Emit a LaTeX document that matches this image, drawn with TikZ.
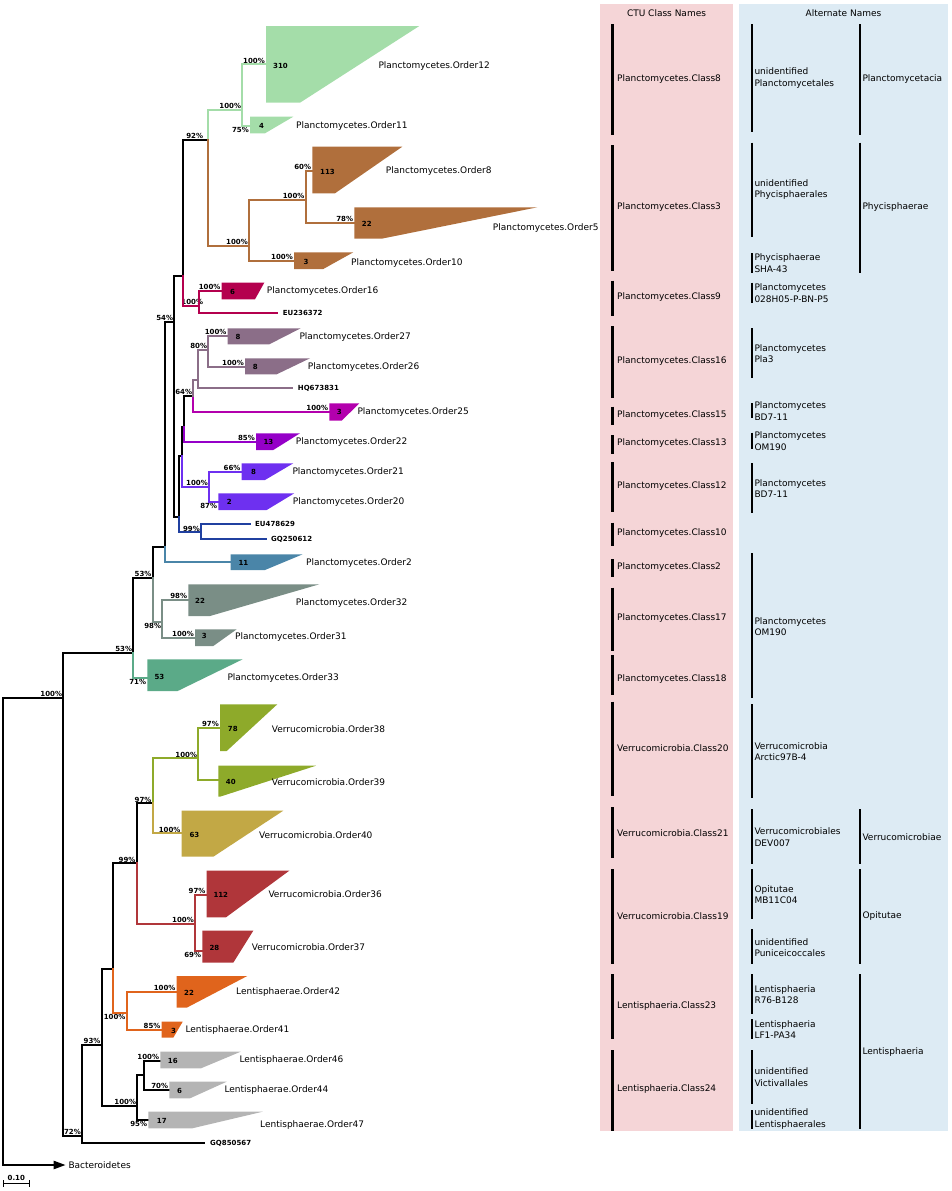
\documentclass[tikz,border=0pt]{standalone}
\usepackage{fontspec}
\setmainfont{DejaVu Sans}
\usetikzlibrary{positioning,arrows.meta}

\definecolor{cgreen}{HTML}{A4DDA9}
\definecolor{cbrown}{HTML}{B06F3C}
\definecolor{ccrim}{HTML}{B4004E}
\definecolor{cmauve}{HTML}{8B6E88}
\definecolor{cmag}{HTML}{B300AD}
\definecolor{cpurp}{HTML}{9500C8}
\definecolor{cviol}{HTML}{6E30F0}
\definecolor{cnavy}{HTML}{2040A0}
\definecolor{csteel}{HTML}{4A85A8}
\definecolor{cgtl}{HTML}{7A8E86}
\definecolor{cteal}{HTML}{5BAA88}
\definecolor{colive}{HTML}{8EAA2A}
\definecolor{cgold}{HTML}{C2A845}
\definecolor{cred}{HTML}{B0363A}
\definecolor{corange}{HTML}{E0641C}
\definecolor{cgray}{HTML}{B4B4B4}
\definecolor{pinkbg}{HTML}{F5D5D7}
\definecolor{bluebg}{HTML}{DDEBF4}

\begin{document}
\begin{tikzpicture}
    [x=1pt, y=-1pt,
    br/.style = {line width=2.2pt, line cap=rect},
    bs/.style = {font=\bfseries\fontsize{7}{8}\selectfont, inner sep=1pt},
    cnt/.style = {font=\bfseries\fontsize{7}{8}\selectfont, inner sep=0pt, anchor=west},
    leaf/.style = {font=\bfseries\fontsize{7}{8}\selectfont, inner sep=0pt},
    tx/.style = {font=\fontsize{9}{11}\selectfont, inner sep=0pt, anchor=west},
    bar/.style = {line width=2.6pt},
    pnl/.style = {font=\fontsize{9}{11.3}\selectfont, inner sep=0pt, anchor=west, align=left}]
    \useasboundingbox (0,0) rectangle (951,1191);
    % Panels
    \fill[pinkbg] (600,4) rectangle (732.7,1130.7);
    \fill[bluebg] (739,4) rectangle (947.7,1130.7);
    \node[font=\fontsize{9}{11}\selectfont] (hdA) at (666.5,13) {CTU Class Names};
    \node[font=\fontsize{9}{11}\selectfont] (hdB) at (843.5,13) {Alternate Names};
    % Inner nodes of the tree
    \coordinate (root) at (3.3,698);
    \coordinate[label={[bs]above left:100\%}] (n100) at (63.3,698);
    \coordinate[label={[bs]above left:53\%}] (nA53) at (133.3,652.7);
    \coordinate[label={[bs]above left:53\%}] (nB53) at (152.7,577.7);
    \coordinate (nMid) at (165,546.7);
    \coordinate[label={[bs]above left:54\%}] (n54) at (174.3,321.7);
    \coordinate (nTop) at (183.3,276);
    \coordinate[label={[bs,xshift=-4pt]above left:92\%}] (n92) at (208.3,140);
    \coordinate[label={[bs]above left:100\%}] (nG) at (242.3,110);
    \coordinate[label={[bs]above left:100\%}] (nBr) at (249,246);
    \coordinate[label={[bs]above left:100\%}] (nBr2) at (305.7,200);
    \coordinate[label={[bs,xshift=5pt]above left:100\%}] (nCr) at (199.3,306);
    \coordinate (nA) at (179,516.7);
    \coordinate (nB) at (181.7,456);
    \coordinate (nC) at (184.3,426.7);
    \coordinate[label={[bs]above left:64\%}] (n64) at (193.3,396);
    \coordinate (nMv) at (198.3,380);
    \coordinate[label={[bs]above left:80\%}] (n80) at (208.3,350);
    \coordinate[label={[bs]above left:100\%}] (nVi) at (209,486.7);
    \coordinate[label={[bs]above left:99\%}] (n99n) at (201,532.3);
    \coordinate[label={[bs]below left:98\%}] (n98) at (162.3,621.7);
    \coordinate[label={[bs]above left:72\%}] (n72) at (82,1135.7);
    \coordinate[label={[bs]above left:93\%}] (n93) at (101.7,1045);
    \coordinate (nV) at (112.7,969);
    \coordinate[label={[bs]above left:99\%}] (n99v) at (136.7,863.3);
    \coordinate[label={[bs]above left:97\%}] (n97) at (152.7,803.3);
    \coordinate[label={[bs]above left:100\%}] (nOl) at (198.3,758.3);
    \coordinate[label={[bs]above left:100\%}] (nRd) at (195,924);
    \coordinate[label={[bs]below left:100\%}] (nOr) at (126.7,1013);
    \coordinate[label={[bs]above left:100\%}] (nL) at (137.3,1105.7);
    \coordinate (nL2) at (144.3,1075);
    % Tips
    \coordinate[label={[bs]above left:100\%}] (o12) at (266,64.3);
    \coordinate[label={[bs]below left:75\%}] (o11) at (250,126);
    \coordinate[label={[bs]above left:60\%}] (o8) at (312.3,170.7);
    \coordinate[label={[bs]above left:78\%}] (o5) at (354.3,222.7);
    \coordinate[label={[bs]above left:100\%}] (o10) at (294,260.7);
    \coordinate[label={[bs]above left:100\%}] (o16) at (221.7,290.7);
    \coordinate (eu1) at (277.3,313.3);
    \coordinate[label={[bs]above left:100\%}] (o27) at (227.7,335.7);
    \coordinate[label={[bs]above left:100\%}] (o26) at (245,366.7);
    \coordinate (hq) at (292.3,388.3);
    \coordinate[label={[bs]above left:100\%}] (o25) at (329.3,411.7);
    \coordinate[label={[bs]above left:85\%}] (o22) at (256,441.7);
    \coordinate[label={[bs]above left:66\%}] (o21) at (241.7,471.7);
    \coordinate[label={[bs]below left:87\%}] (o20) at (218.3,501.7);
    \coordinate (eu2) at (250,524.3);
    \coordinate (gq1) at (265.7,539.3);
    \coordinate (o2) at (230.7,562.3);
    \coordinate[label={[bs]above left:98\%}] (o32) at (188.3,600);
    \coordinate[label={[bs]above left:100\%}] (o31) at (195,637.7);
    \coordinate[label={[bs]below left:71\%}] (o33) at (147.3,678.3);
    \coordinate[label={[bs]above left:97\%}] (o38) at (220,727.7);
    \coordinate (o39) at (218.3,780);
    \coordinate[label={[bs]above left:100\%}] (o40) at (181.7,833.3);
    \coordinate[label={[bs]above left:97\%}] (o36) at (206.7,895);
    \coordinate[label={[bs]below left:69\%}] (o37) at (202.3,950.7);
    \coordinate[label={[bs]above left:100\%}] (o42) at (176.7,991.7);
    \coordinate[label={[bs]above left:85\%}] (o41) at (161.7,1030);
    \coordinate[label={[bs]above left:100\%}] (o46) at (160.3,1060.7);
    \coordinate[label={[bs]above left:70\%}] (o44) at (169.3,1090);
    \coordinate[label={[bs]below left:95\%}] (o47) at (148.3,1120);
    \coordinate (gq2) at (204,1143.3);
    \coordinate (bact) at (65.7,1165);
    % Branches
    \draw[br,-{Triangle[length=12pt,width=8pt]}] (root) |- (bact);
    \draw[br] (root) -- (n100) (n100) |- (nA53) (n100) |- (n72);
    \draw[br] (nA53) |- (nB53) (nB53) |- (nMid) (nMid) |- (n54);
    \draw[br] (n54) |- (nTop) (n54) |- (nA) (nTop) |- (n92);
    \draw[br] (nA) |- (nB) (nB) |- (nC) (nC) |- (n64);
    \draw[br,cteal] (nA53) |- (o33);
    \draw[br,cgtl] (nB53) |- (n98) (n98) |- (o32) (n98) |- (o31);
    \draw[br,csteel] (nMid) |- (o2);
    \draw[br,cgreen] (n92) |- (nG) (nG) |- (o12) (nG) |- (o11);
    \draw[br,cbrown] (n92) |- (nBr) (nBr) |- (nBr2) (nBr) |- (o10);
    \draw[br,cbrown] (nBr2) |- (o8) (nBr2) |- (o5);
    \draw[br,ccrim] (nTop) |- (nCr) (nCr) |- (o16) (nCr) |- (eu1);
    \draw[br,cnavy] (nA) |- (n99n) (n99n) |- (eu2) (n99n) |- (gq1);
    \draw[br,cviol] (nB) |- (nVi) (nVi) |- (o21) (nVi) |- (o20);
    \draw[br,cpurp] (nC) |- (o22);
    \draw[br,cmag] (n64) |- (o25);
    \draw[br,cmauve] (n64) |- (nMv) (nMv) |- (n80) (nMv) |- (hq);
    \draw[br,cmauve] (n80) |- (o27) (n80) |- (o26);
    \draw[br] (n72) |- (n93) (n72) |- (gq2) (n93) |- (nV) (n93) |- (nL);
    \draw[br] (nV) |- (n99v) (n99v) |- (n97);
    \draw[br] (nL) |- (nL2) (nL) |- (o47) (nL2) |- (o46) (nL2) |- (o44);
    \draw[br,colive] (n97) |- (nOl) (nOl) |- (o38) (nOl) |- (o39);
    \draw[br,cgold] (n97) |- (o40);
    \draw[br,cred] (n99v) |- (nRd) (nRd) |- (o36) (nRd) |- (o37);
    \draw[br,corange] (nV) |- (nOr) (nOr) |- (o42) (nOr) |- (o41);
    % Collapsed clades
    \fill[cgreen] (266,26) -- (419.3,26) -- (300,102.7) -- (266,102.7) -- cycle;
    \fill[cgreen] (250,116.7) -- (293.3,116.7) -- (265,133.3) -- (250,133.3) -- cycle;
    \fill[cbrown] (312.3,146.7) -- (402.3,146.7) -- (335,193.3) -- (312.3,193.3) -- cycle;
    \fill[cbrown] (354.3,207.3) -- (537.3,207.3) -- (381.7,238.7) -- (354.3,238.7) -- cycle;
    \fill[cbrown] (294,252.3) -- (353.3,252.3) -- (323.3,269) -- (294,269) -- cycle;
    \fill[ccrim] (221.7,282.7) -- (264.3,282.7) -- (255,299.3) -- (221.7,299.3) -- cycle;
    \fill[cmauve] (227.7,328.3) -- (300.7,328.3) -- (269.3,344.3) -- (227.7,344.3) -- cycle;
    \fill[cmauve] (245,358.3) -- (310,358.3) -- (276.7,374.3) -- (245,374.3) -- cycle;
    \fill[cmag] (329.3,403.3) -- (359.3,403.3) -- (341.7,420.7) -- (329.3,420.7) -- cycle;
    \fill[cpurp] (256,433.3) -- (300,433.3) -- (273.3,450) -- (256,450) -- cycle;
    \fill[cviol] (241.7,463.3) -- (293.3,463.3) -- (265,480) -- (241.7,480) -- cycle;
    \fill[cviol] (218.3,493.3) -- (294.3,493.3) -- (266.7,510) -- (218.3,510) -- cycle;
    \fill[csteel] (230.7,554.3) -- (302.7,554.3) -- (265,570) -- (230.7,570) -- cycle;
    \fill[cgtl] (188.3,584.3) -- (319.3,584.3) -- (210,616) -- (188.3,616) -- cycle;
    \fill[cgtl] (195,629.3) -- (236.7,629.3) -- (213.3,646) -- (195,646) -- cycle;
    \fill[cteal] (147.3,659.3) -- (242.7,659.3) -- (177.7,691) -- (147.3,691) -- cycle;
    \fill[colive] (220,704.3) -- (277.3,704.3) -- (226.7,751) -- (220,751) -- cycle;
    \fill[colive] (218.3,765.7) -- (316,765.7) -- (220,796.7) -- (218.3,796.7) -- cycle;
    \fill[cgold] (181.7,810.7) -- (283.3,810.7) -- (213.3,856.7) -- (181.7,856.7) -- cycle;
    \fill[cred] (206.7,870.7) -- (289.3,870.7) -- (226,917.3) -- (206.7,917.3) -- cycle;
    \fill[cred] (202.3,930.7) -- (253.3,930.7) -- (233.3,962.7) -- (202.3,962.7) -- cycle;
    \fill[corange] (176.7,976) -- (247.3,976) -- (186.7,1007.7) -- (176.7,1007.7) -- cycle;
    \fill[corange] (161.7,1021.7) -- (182.7,1021.7) -- (173.3,1037.7) -- (161.7,1037.7) -- cycle;
    \fill[cgray] (160.3,1051.7) -- (240.7,1051.7) -- (201,1068.3) -- (160.3,1068.3) -- cycle;
    \fill[cgray] (169.3,1081.7) -- (226.7,1081.7) -- (190,1098.3) -- (169.3,1098.3) -- cycle;
    \fill[cgray] (148.3,1111.7) -- (262.7,1111.7) -- (192.3,1128.3) -- (148.3,1128.3) -- cycle;
    % Sizes of the clades
    \node[cnt] (k12) at (273,65.5) {310};
    \node[cnt] (k11) at (259,126) {4};
    \node[cnt] (k8) at (320,172) {113};
    \node[cnt] (k5) at (361.7,224) {22};
    \node[cnt] (k10) at (303.3,262) {3};
    \node[cnt] (k16) at (230,292) {6};
    \node[cnt] (k27) at (235.3,337) {8};
    \node[cnt] (k26) at (252.7,367) {8};
    \node[cnt] (k25) at (336.7,412) {3};
    \node[cnt] (k22) at (263.3,442) {13};
    \node[cnt] (k21) at (251,472) {8};
    \node[cnt] (k20) at (226.7,502) {2};
    \node[cnt] (k2) at (238.3,563) {11};
    \node[cnt] (k32) at (195,601) {22};
    \node[cnt] (k31) at (201.7,636) {3};
    \node[cnt] (k33) at (154.3,677) {53};
    \node[cnt] (k38) at (227.7,729) {78};
    \node[cnt] (k39) at (225.7,782) {40};
    \node[cnt] (k40) at (189.3,835) {63};
    \node[cnt] (k36) at (213.3,895) {112};
    \node[cnt] (k37) at (209.3,948) {28};
    \node[cnt] (k42) at (184,993) {22};
    \node[cnt] (k41) at (171,1031) {3};
    \node[cnt] (k46) at (167.7,1061) {16};
    \node[cnt] (k44) at (177,1091) {6};
    \node[cnt] (k47) at (156.7,1121) {17};
    % Clade names
    \node[tx] (t12) at (378.3,66) {Planctomycetes.Order12};
    \node[tx] (t11) at (296,126) {Planctomycetes.Order11};
    \node[tx] (t8) at (385.7,171) {Planctomycetes.Order8};
    \node[tx] (t5) at (492.7,228) {Planctomycetes.Order5};
    \node[tx] (t10) at (351,263) {Planctomycetes.Order10};
    \node[tx] (t16) at (266.7,291) {Planctomycetes.Order16};
    \node[tx] (t27) at (299.3,337) {Planctomycetes.Order27};
    \node[tx] (t26) at (307.7,367) {Planctomycetes.Order26};
    \node[tx] (t25) at (357.3,412) {Planctomycetes.Order25};
    \node[tx] (t22) at (295.7,442) {Planctomycetes.Order22};
    \node[tx] (t21) at (292.3,472) {Planctomycetes.Order21};
    \node[tx] (t20) at (292.7,502) {Planctomycetes.Order20};
    \node[tx] (t2) at (306,563) {Planctomycetes.Order2};
    \node[tx] (t32) at (295.7,603) {Planctomycetes.Order32};
    \node[tx] (t31) at (235,637) {Planctomycetes.Order31};
    \node[tx] (t33) at (227.3,678) {Planctomycetes.Order33};
    \node[tx] (t38) at (271.7,729) {Verrucomicrobia.Order38};
    \node[tx] (t39) at (271.7,782) {Verrucomicrobia.Order39};
    \node[tx] (t40) at (259,835) {Verrucomicrobia.Order40};
    \node[tx] (t36) at (268.3,894) {Verrucomicrobia.Order36};
    \node[tx] (t37) at (251.7,947) {Verrucomicrobia.Order37};
    \node[tx] (t42) at (236,992) {Lentisphaerae.Order42};
    \node[tx] (t41) at (185.3,1030) {Lentisphaerae.Order41};
    \node[tx] (t46) at (239.3,1060) {Lentisphaerae.Order46};
    \node[tx] (t44) at (224.3,1090) {Lentisphaerae.Order44};
    \node[tx] (t47) at (260,1125) {Lentisphaerae.Order47};
    % Single sequences
    \node[leaf,right=5.4pt of eu1] (teu1) {EU236372};
    \node[leaf,right=5.4pt of hq] (thq) {HQ673831};
    \node[leaf,right=5pt of eu2] (teu2) {EU478629};
    \node[leaf,right=5.3pt of gq1] (tgq1) {GQ250612};
    \node[leaf,right=6pt of gq2] (tgq2) {GQ850567};
    \node[tx,right=2.6pt of bact] (tbact) {Bacteroidetes};
    % Scale bar
    \draw[line width=1.4pt] (3.3,1180) -- (3.3,1187) (3.3,1183.5) -- (29.3,1183.5) (29.3,1180) -- (29.3,1187);
    \node[leaf] (scl) at (16.3,1177.5) {0.10};
    % CTU class names
    \draw[bar] (612.7,24.3) -- (612.7,135);
    \node[pnl] (c8) at (617,79) {Planctomycetes.Class8};
    \draw[bar] (612.7,145) -- (612.7,270.7);
    \node[pnl] (c3) at (617,206.7) {Planctomycetes.Class3};
    \draw[bar] (612.7,280.7) -- (612.7,316);
    \node[pnl] (c9) at (617,297.3) {Planctomycetes.Class9};
    \draw[bar] (612.7,326) -- (612.7,397.7);
    \node[pnl] (c16) at (617,360.7) {Planctomycetes.Class16};
    \draw[bar] (612.7,406.7) -- (612.7,425);
    \node[pnl] (c15) at (617,415) {Planctomycetes.Class15};
    \draw[bar] (612.7,435) -- (612.7,454);
    \node[pnl] (c13) at (617,443.3) {Planctomycetes.Class13};
    \draw[bar] (612.7,462.3) -- (612.7,512.3);
    \node[pnl] (c12) at (617,486) {Planctomycetes.Class12};
    \draw[bar] (612.7,522.7) -- (612.7,545.7);
    \node[pnl] (c10) at (617,532.7) {Planctomycetes.Class10};
    \draw[bar] (612.7,559) -- (612.7,577.3);
    \node[pnl] (c2) at (617,566.7) {Planctomycetes.Class2};
    \draw[bar] (612.7,587.7) -- (612.7,650.7);
    \node[pnl] (c17) at (617,618.3) {Planctomycetes.Class17};
    \draw[bar] (612.7,655) -- (612.7,695);
    \node[pnl] (c18) at (617,679) {Planctomycetes.Class18};
    \draw[bar] (612.7,701.7) -- (612.7,796);
    \node[pnl] (c20) at (617,748.3) {Verrucomicrobia.Class20};
    \draw[bar] (612.7,807.3) -- (612.7,858.3);
    \node[pnl] (c21) at (617,832.7) {Verrucomicrobia.Class21};
    \draw[bar] (612.7,869) -- (612.7,964);
    \node[pnl] (c19) at (617,916) {Verrucomicrobia.Class19};
    \draw[bar] (612.7,974.3) -- (612.7,1039.3);
    \node[pnl] (c23) at (617,1006) {Lentisphaeria.Class23};
    \draw[bar] (612.7,1050) -- (612.7,1130.7);
    \node[pnl] (c24) at (617,1089) {Lentisphaeria.Class24};
    % Alternate names
    \draw[bar] (752,24.3) -- (752,132.3);
    \node[pnl] (a1) at (754.3,78) {unidentified\\Planctomycetales};
    \draw[bar] (752,142.7) -- (752,237.3);
    \node[pnl] (a2) at (754.3,189.5) {unidentified\\Phycisphaerales};
    \draw[bar] (752,253.3) -- (752,272.7);
    \node[pnl] (a3) at (754.3,263) {Phycisphaerae\\SHA-43};
    \draw[bar] (752,282.7) -- (752,302.7);
    \node[pnl] (a4) at (754.3,293) {Planctomycetes\\028H05-P-BN-P5};
    \draw[bar] (752,328.3) -- (752,377.7);
    \node[pnl] (a5) at (754.3,353.3) {Planctomycetes\\Pla3};
    \draw[bar] (752,403.3) -- (752,418.3);
    \node[pnl] (a6) at (754.3,411) {Planctomycetes\\BD7-11};
    \draw[bar] (752,432.7) -- (752,449);
    \node[pnl] (a7) at (754.3,441) {Planctomycetes\\OM190};
    \draw[bar] (752,463.3) -- (752,513.3);
    \node[pnl] (a8) at (754.3,488.7) {Planctomycetes\\BD7-11};
    \draw[bar] (752,553.3) -- (752,698.3);
    \node[pnl] (a9) at (754.3,626.3) {Planctomycetes\\OM190};
    \draw[bar] (752,704) -- (752,798.3);
    \node[pnl] (a10) at (754.3,751.7) {Verrucomicrobia\\Arctic97B-4};
    \draw[bar] (752,809) -- (752,864);
    \node[pnl] (a11) at (754.3,837) {Verrucomicrobiales\\DEV007};
    \draw[bar] (752,869) -- (752,919);
    \node[pnl] (a12) at (754.3,894.7) {Opitutae\\MB11C04};
    \draw[bar] (752,929.3) -- (752,964);
    \node[pnl] (a13) at (754.3,947.3) {unidentified\\Puniceicoccales};
    \draw[bar] (752,974.3) -- (752,1014);
    \node[pnl] (a14) at (754.3,994.7) {Lentisphaeria\\R76-B128};
    \draw[bar] (752,1019.3) -- (752,1039.3);
    \node[pnl] (a15) at (754.3,1029.7) {Lentisphaeria\\LF1-PA34};
    \draw[bar] (752,1050) -- (752,1104.3);
    \node[pnl] (a16) at (754.3,1077) {unidentified\\Victivallales};
    \draw[bar] (752,1110) -- (752,1129.3);
    \node[pnl] (a17) at (754.3,1119) {unidentified\\Lentisphaerales};
    % Higher groups
    \draw[bar] (860,24.3) -- (860,135);
    \node[pnl] (g1) at (862.3,79) {Planctomycetacia};
    \draw[bar] (860,142.7) -- (860,272.7);
    \node[pnl] (g2) at (862.3,207.3) {Phycisphaerae};
    \draw[bar] (860,809) -- (860,864);
    \node[pnl] (g3) at (862.3,836.7) {Verrucomicrobiae};
    \draw[bar] (860,869) -- (860,964);
    \node[pnl] (g4) at (862.3,916) {Opitutae};
    \draw[bar] (860,974.3) -- (860,1129.3);
    \node[pnl] (g5) at (862.3,1051.7) {Lentisphaeria};
\end{tikzpicture}
\end{document}
